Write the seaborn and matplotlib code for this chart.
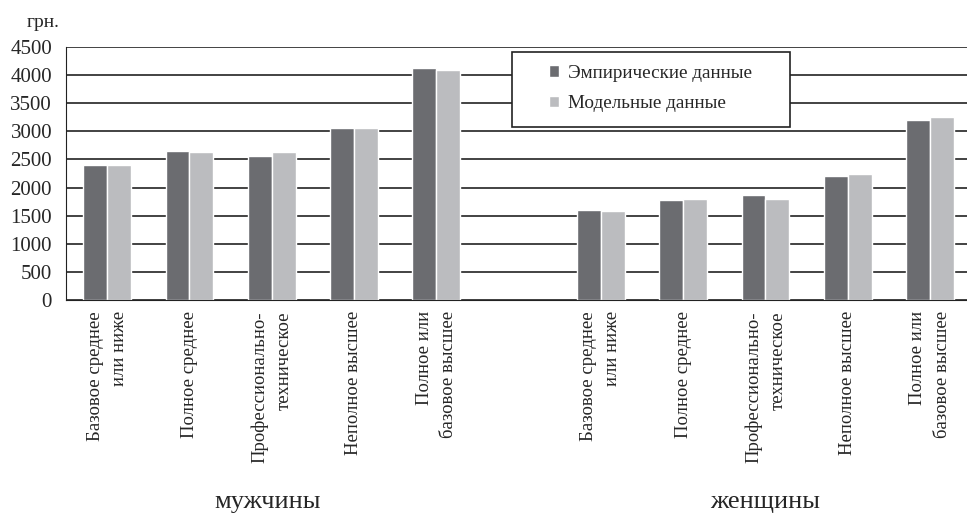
import pandas as pd
import numpy as np
import seaborn as sns
import matplotlib.pyplot as plt
from matplotlib.ticker import FixedLocator
from matplotlib.patches import Rectangle

#%%
levels = ["Базовое среднее\nили ниже", "Полное среднее", "Профессионально-\nтехническое",
          "Неполное высшее", "Полное или\nбазовое высшее"]
groups = ["мужчины", "женщины"]
series = ["Эмпирические данные", "Модельные данные"]

men_emp = [2400, 2650, 2570, 3060, 4130]
men_mod = [2400, 2630, 2630, 3060, 4095]
women_emp = [1600, 1780, 1870, 2210, 3200]
women_mod = [1585, 1795, 1800, 2245, 3260]

#%%
rows = []
for g, emp, mod in [(groups[0], men_emp, men_mod), (groups[1], women_emp, women_mod)]:
    for i, lv in enumerate(levels):
        key = g + "_" + str(i)
        rows.append({"cat": key, "series": series[0], "value": emp[i]})
        rows.append({"cat": key, "series": series[1], "value": mod[i]})
df = pd.DataFrame(rows)

order = [groups[0] + "_" + str(i) for i in range(5)] + ["gap"] + [groups[1] + "_" + str(i) for i in range(5)]

#%%
sns.set_style("white")
plt.rcParams["font.family"] = ["Liberation Serif", "DejaVu Serif"]

fig = plt.figure(figsize=(9.67, 5.13), dpi=100)
ax = fig.add_axes([66 / 967, 1 - 300 / 513, 901 / 967, 253 / 513])

sns.barplot(data=df, x="cat", y="value", hue="series", order=order, hue_order=series,
            palette=["#6b6c70", "#bbbcbf"], width=0.58, saturation=1, ax=ax, legend=True)

ax.set_ylim(0, 4500)
ax.set_xlim(-0.5, 10.45)
ax.set_yticks(np.arange(0, 4501, 500))
ax.yaxis.grid(True, color="#222222", linewidth=1.2)
ax.set_axisbelow(True)
for s in ["top", "right"]:
    ax.spines[s].set_visible(False)
ax.spines["left"].set_color("#222222")
ax.spines["bottom"].set_color("#222222")
ax.tick_params(axis="y", direction="out", length=6, color="#222222", labelsize=15, pad=4)

labels = levels + [""] + levels
ax.set_xticks(range(len(order)))
ax.set_xticklabels(labels, rotation=90, ha="center", va="top", multialignment="right",
                   fontsize=13.5, linespacing=1.55)
ax.tick_params(axis="x", which="major", length=0, pad=8)
bounds = [-0.5, 0.5, 1.5, 2.5, 3.5, 5.5, 6.5, 7.5, 8.5, 9.5]
ax.xaxis.set_minor_locator(FixedLocator(bounds))
ax.tick_params(axis="x", which="minor", direction="out", length=6, width=1, color="#222222")
ax.set_xlabel("")
ax.set_ylabel("")

fig.text(27 / 967, 1 - 27 / 513, "грн.", fontsize=14, ha="left", va="baseline")
fig.text(268 / 967, 1 - 508 / 513, groups[0], fontsize=19, ha="center", va="baseline")
fig.text(765 / 967, 1 - 508 / 513, groups[1], fontsize=19, ha="center", va="baseline")

# legend frame drawn separately to get the wide side padding
ax.add_patch(Rectangle((0.495, 0.684), 0.309, 0.296, transform=ax.transAxes, facecolor="white",
                       edgecolor="#222222", linewidth=1.2, zorder=5))
leg = ax.legend(loc="upper left", bbox_to_anchor=(0.536, 0.93), fontsize=13.8, frameon=False,
                handlelength=0.55, handleheight=0.55, borderpad=0, labelspacing=0.7,
                handletextpad=0.45, borderaxespad=0)
leg.set_zorder(6)
leg.set_title(None)

plt.savefig("out.png", dpi=100)
